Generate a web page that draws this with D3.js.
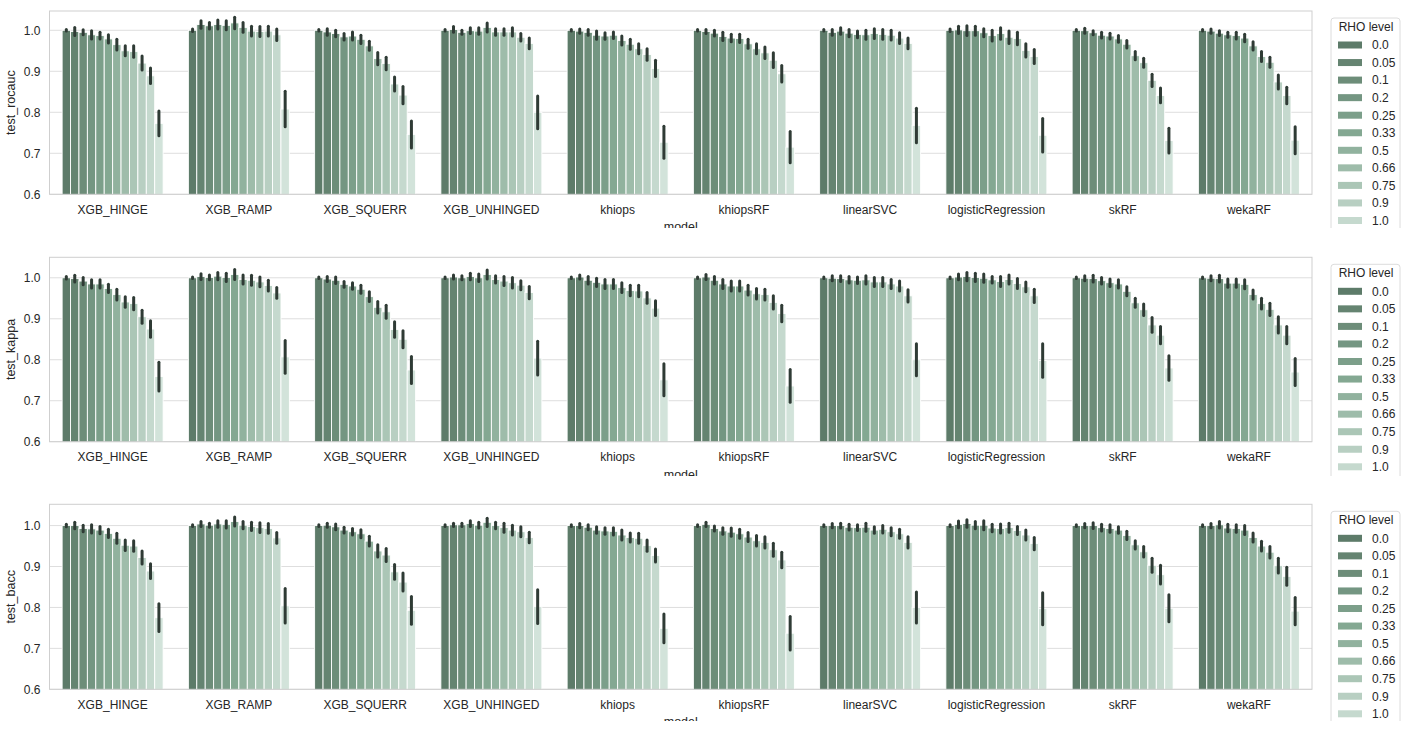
<!DOCTYPE html>
<html><head><meta charset="utf-8">
<script src="https://cdn.jsdelivr.net/npm/d3@7"></script>
<style>body{margin:0;background:#fff}svg{display:block}text{font-family:"Liberation Sans",Arial,sans-serif}</style>
</head><body><svg id="c" width="1421" height="733"></svg>
<script>
const models = ["XGB_HINGE","XGB_RAMP","XGB_SQUERR","XGB_UNHINGED","khiops","khiopsRF","linearSVC","logisticRegression","skRF","wekaRF"];
const rhoLevels = ["0.0","0.05","0.1","0.2","0.25","0.33","0.5","0.66","0.75","0.9","1.0","1.5"];
const yTicks = [0.6,0.7,0.8,0.9,1.0];
const metricNames = ["test_rocauc","test_kappa","test_bacc"];
const yMaxes = [1.047,1.050,1.052];

const rocaucMean = [
[1.0,0.997,0.995,0.989,0.987,0.979,0.965,0.950,0.948,0.920,0.889,0.773],
[1.0,1.014,1.011,1.014,1.012,1.018,1.007,0.998,0.997,0.998,0.989,0.808],
[1.0,0.996,0.992,0.984,0.986,0.978,0.962,0.931,0.919,0.869,0.842,0.746],
[1.0,1.002,0.995,0.999,0.998,1.007,0.996,0.996,0.996,0.983,0.968,0.800],
[1.0,0.998,0.995,0.988,0.986,0.988,0.975,0.966,0.955,0.941,0.907,0.727],
[1.0,0.997,0.993,0.985,0.981,0.980,0.967,0.955,0.945,0.927,0.894,0.715],
[1.0,0.995,0.998,0.993,0.990,0.989,0.992,0.990,0.988,0.981,0.968,0.768],
[1.0,1.001,0.999,0.999,0.994,0.987,0.992,0.983,0.980,0.951,0.936,0.744],
[1.0,0.999,0.994,0.988,0.986,0.979,0.966,0.938,0.921,0.878,0.841,0.731],
[1.0,0.998,0.993,0.989,0.987,0.981,0.962,0.936,0.922,0.874,0.841,0.732]];
const rocaucErr = [
[0.002,0.010,0.006,0.010,0.008,0.010,0.013,0.012,0.014,0.017,0.019,0.030],
[0.003,0.009,0.008,0.011,0.011,0.014,0.012,0.012,0.012,0.012,0.014,0.043],
[0.002,0.008,0.008,0.008,0.010,0.010,0.011,0.015,0.015,0.017,0.021,0.033],
[0.002,0.007,0.005,0.007,0.008,0.011,0.008,0.008,0.010,0.009,0.013,0.040],
[0.002,0.005,0.007,0.010,0.008,0.008,0.011,0.012,0.012,0.014,0.020,0.039],
[0.002,0.005,0.007,0.010,0.009,0.010,0.011,0.012,0.014,0.018,0.020,0.038],
[0.002,0.007,0.008,0.009,0.008,0.011,0.012,0.012,0.012,0.013,0.013,0.042],
[0.003,0.009,0.012,0.011,0.010,0.013,0.014,0.015,0.015,0.016,0.017,0.041],
[0.002,0.006,0.005,0.007,0.007,0.008,0.009,0.010,0.011,0.015,0.018,0.030],
[0.002,0.005,0.006,0.006,0.008,0.009,0.010,0.012,0.012,0.017,0.020,0.033]];

const kappaMean = [
[1.0,0.998,0.992,0.985,0.985,0.974,0.959,0.941,0.937,0.905,0.875,0.759],
[1.0,1.003,1.001,1.004,1.001,1.008,0.996,0.994,0.990,0.981,0.963,0.807],
[1.0,0.997,0.994,0.984,0.980,0.972,0.954,0.928,0.917,0.874,0.850,0.775],
[1.0,1.002,1.000,1.003,1.000,1.008,0.996,0.992,0.988,0.982,0.964,0.804],
[1.0,1.002,0.994,0.989,0.985,0.985,0.976,0.969,0.968,0.951,0.926,0.751],
[1.0,1.002,0.994,0.985,0.980,0.980,0.970,0.961,0.959,0.940,0.913,0.736],
[1.0,0.999,0.998,0.995,0.994,0.995,0.990,0.990,0.985,0.980,0.956,0.800],
[1.0,1.002,1.003,1.001,0.999,0.995,0.991,0.996,0.986,0.978,0.956,0.798],
[1.0,0.999,0.998,0.993,0.988,0.985,0.967,0.939,0.922,0.885,0.860,0.780],
[1.0,0.999,0.998,0.987,0.987,0.984,0.959,0.937,0.923,0.885,0.860,0.770]];
const kappaErr = [
[0.003,0.008,0.009,0.010,0.010,0.010,0.013,0.013,0.015,0.016,0.020,0.035],
[0.002,0.007,0.006,0.009,0.010,0.012,0.011,0.012,0.012,0.013,0.013,0.040],
[0.002,0.006,0.008,0.007,0.008,0.010,0.012,0.014,0.016,0.019,0.021,0.033],
[0.002,0.005,0.005,0.008,0.009,0.011,0.009,0.011,0.013,0.011,0.015,0.041],
[0.002,0.005,0.009,0.010,0.011,0.011,0.012,0.013,0.014,0.013,0.018,0.039],
[0.002,0.006,0.009,0.011,0.012,0.012,0.012,0.013,0.013,0.016,0.020,0.040],
[0.002,0.006,0.007,0.008,0.008,0.010,0.011,0.011,0.011,0.012,0.015,0.039],
[0.002,0.007,0.010,0.010,0.010,0.008,0.012,0.011,0.012,0.012,0.016,0.041],
[0.002,0.006,0.008,0.008,0.009,0.010,0.011,0.011,0.014,0.018,0.021,0.030],
[0.002,0.006,0.008,0.010,0.010,0.011,0.011,0.013,0.015,0.020,0.021,0.033]];

const baccMean = [
[1.0,1.000,0.993,0.992,0.989,0.981,0.969,0.952,0.950,0.922,0.889,0.775],
[1.0,1.004,1.001,1.004,1.003,1.010,1.001,0.998,0.995,0.993,0.970,0.804],
[1.0,1.001,0.997,0.989,0.985,0.980,0.962,0.938,0.928,0.887,0.862,0.793],
[1.0,1.002,1.002,1.005,1.001,1.008,1.000,0.995,0.989,0.985,0.971,0.802],
[1.0,1.000,0.996,0.989,0.987,0.986,0.977,0.971,0.969,0.951,0.927,0.749],
[1.0,1.003,0.993,0.987,0.984,0.980,0.972,0.963,0.959,0.941,0.916,0.737],
[1.0,1.000,1.000,0.996,0.995,0.996,0.989,0.991,0.985,0.980,0.959,0.800],
[1.0,1.003,1.005,1.001,1.001,0.994,0.993,0.995,0.988,0.977,0.956,0.797],
[1.0,1.000,1.000,0.995,0.993,0.989,0.976,0.953,0.936,0.903,0.880,0.798],
[1.0,1.000,1.002,0.994,0.993,0.989,0.971,0.950,0.935,0.902,0.876,0.791]];
const baccErr = [
[0.003,0.008,0.008,0.010,0.009,0.010,0.012,0.013,0.013,0.016,0.018,0.034],
[0.002,0.006,0.005,0.008,0.009,0.011,0.009,0.010,0.012,0.012,0.013,0.042],
[0.002,0.005,0.007,0.007,0.008,0.010,0.012,0.015,0.016,0.018,0.022,0.034],
[0.002,0.004,0.004,0.007,0.007,0.010,0.008,0.011,0.012,0.012,0.013,0.041],
[0.002,0.005,0.006,0.008,0.008,0.009,0.012,0.011,0.012,0.014,0.016,0.035],
[0.002,0.005,0.006,0.008,0.010,0.011,0.011,0.013,0.014,0.016,0.019,0.041],
[0.002,0.005,0.006,0.007,0.007,0.010,0.008,0.009,0.010,0.011,0.014,0.038],
[0.002,0.008,0.009,0.009,0.011,0.009,0.011,0.011,0.010,0.012,0.015,0.039],
[0.002,0.005,0.007,0.008,0.009,0.008,0.010,0.010,0.013,0.017,0.023,0.033],
[0.002,0.005,0.008,0.009,0.009,0.011,0.011,0.012,0.014,0.018,0.022,0.033]];

const means = [rocaucMean, kappaMean, baccMean];
const errs = [rocaucErr, kappaErr, baccErr];

// layout
const W = 1421;
const left = 49.5, right = 1312;
const panels = [
  {top: 11, bottom: 194.3, clipTop: 0, clipBottom: 228},
  {top: 257.3, bottom: 441.7, clipTop: 228, clipBottom: 476},
  {top: 504.3, bottom: 689.3, clipTop: 476, clipBottom: 721}
];
const color = d3.scaleLinear()
  .domain([0, 5, 11])
  .range(["#5d7b69", "#84a892", "#d2e3da"])
  .interpolate(d3.interpolateRgb);

const svg = d3.select("#c");
const defs = svg.append("defs");

panels.forEach((p, pi) => {
  const cid = "clip" + pi;
  defs.append("clipPath").attr("id", cid).append("rect")
    .attr("x", 0).attr("y", p.clipTop).attr("width", W).attr("height", p.clipBottom - p.clipTop);
  const pcid = "pclip" + pi;
  defs.append("clipPath").attr("id", pcid).append("rect")
    .attr("x", left).attr("y", p.top).attr("width", right - left).attr("height", p.bottom - p.top);

  const g = svg.append("g").attr("clip-path", `url(#${cid})`);
  const x = d3.scaleBand().domain(models).range([left, right]).paddingInner(0.2).paddingOuter(0.1);
  const x1 = d3.scaleBand().domain(d3.range(rhoLevels.length)).range([0, x.bandwidth()]);
  const y = d3.scaleLinear().domain([0.6, yMaxes[pi]]).range([p.bottom, p.top]);

  // grid
  g.append("g").selectAll("line").data(yTicks).join("line")
    .attr("x1", left).attr("x2", right)
    .attr("y1", d => y(d)).attr("y2", d => y(d))
    .attr("stroke", "#dedede").attr("stroke-width", 1);

  const plot = g.append("g").attr("clip-path", `url(#${pcid})`);
  const data = [];
  models.forEach((m, mi) => rhoLevels.forEach((r, ri) => {
    data.push({m, ri, v: means[pi][mi][ri], e: errs[pi][mi][ri]});
  }));
  plot.append("g").selectAll("rect").data(data).join("rect")
    .attr("x", d => x(d.m) + x1(d.ri))
    .attr("width", x1.bandwidth())
    .attr("y", d => y(d.v))
    .attr("height", d => p.bottom + 2 - y(d.v))
    .attr("fill", d => color(d.ri))
    .attr("stroke", "#ffffff").attr("stroke-width", 0.9);
  plot.append("g").selectAll("line").data(data).join("line")
    .attr("x1", d => x(d.m) + x1(d.ri) + x1.bandwidth() / 2)
    .attr("x2", d => x(d.m) + x1(d.ri) + x1.bandwidth() / 2)
    .attr("y1", d => y(d.v - d.e))
    .attr("y2", d => y(d.v + d.e))
    .attr("stroke", "#2f3b35").attr("stroke-width", 3).attr("stroke-linecap", "round");

  // frame
  g.append("rect").attr("x", left).attr("y", p.top).attr("width", right - left).attr("height", p.bottom - p.top)
    .attr("fill", "none").attr("stroke", "#cfcfcf").attr("stroke-width", 1);

  // y axis
  const ya = g.append("g").attr("transform", `translate(${left},0)`)
    .call(d3.axisLeft(y).tickValues(yTicks).tickFormat(d3.format(".1f")).tickSize(0).tickPadding(9));
  ya.select(".domain").remove();
  ya.selectAll("text").attr("font-size", 12).attr("fill", "#262626").attr("font-family", '"Liberation Sans",Arial,sans-serif');
  // x axis
  const xa = g.append("g").attr("transform", `translate(0,${p.bottom})`)
    .call(d3.axisBottom(x).tickSize(0).tickPadding(11));
  xa.select(".domain").remove();
  xa.selectAll("text").attr("font-size", 12).attr("fill", "#262626").attr("font-family", '"Liberation Sans",Arial,sans-serif');

  g.append("text").attr("transform", `translate(15,${(p.top + p.bottom) / 2}) rotate(-90)`)
    .attr("text-anchor", "middle").attr("font-size", 12.5).attr("fill", "#262626").text(metricNames[pi]);
  g.append("text").attr("x", (left + right) / 2).attr("y", p.bottom + 37)
    .attr("text-anchor", "middle").attr("font-size", 12.5).attr("fill", "#262626").text("model");

  // legend (entries below the panel's image edge are not shown)
  const ly = p.top + 7;
  const lg = g.append("g").attr("transform", `translate(1331,${ly})`);
  lg.append("rect").attr("x", 0).attr("y", 0).attr("width", 69).attr("height", 240).attr("rx", 3)
    .attr("fill", "#ffffff").attr("stroke", "#dcdcdc").attr("stroke-width", 1);
  lg.append("text").attr("x", 35).attr("y", 12.5).attr("text-anchor", "middle").attr("font-size", 12).attr("fill", "#262626").text("RHO level");
  const shown = rhoLevels.map((d, i) => ({d, i})).filter(o => ly + 27 + o.i * 17.55 - 3.5 < p.clipBottom);
  const items = lg.selectAll("g.it").data(shown).join("g").attr("class", "it")
    .attr("transform", o => `translate(0,${27 + o.i * 17.55})`);
  items.append("rect").attr("x", 7).attr("y", -3.5).attr("width", 24).attr("height", 7).attr("fill", o => color(o.i));
  items.append("text").attr("x", 41).attr("y", 4.3).attr("font-size", 12).attr("fill", "#262626").text(o => o.d);
});
</script></body></html>
